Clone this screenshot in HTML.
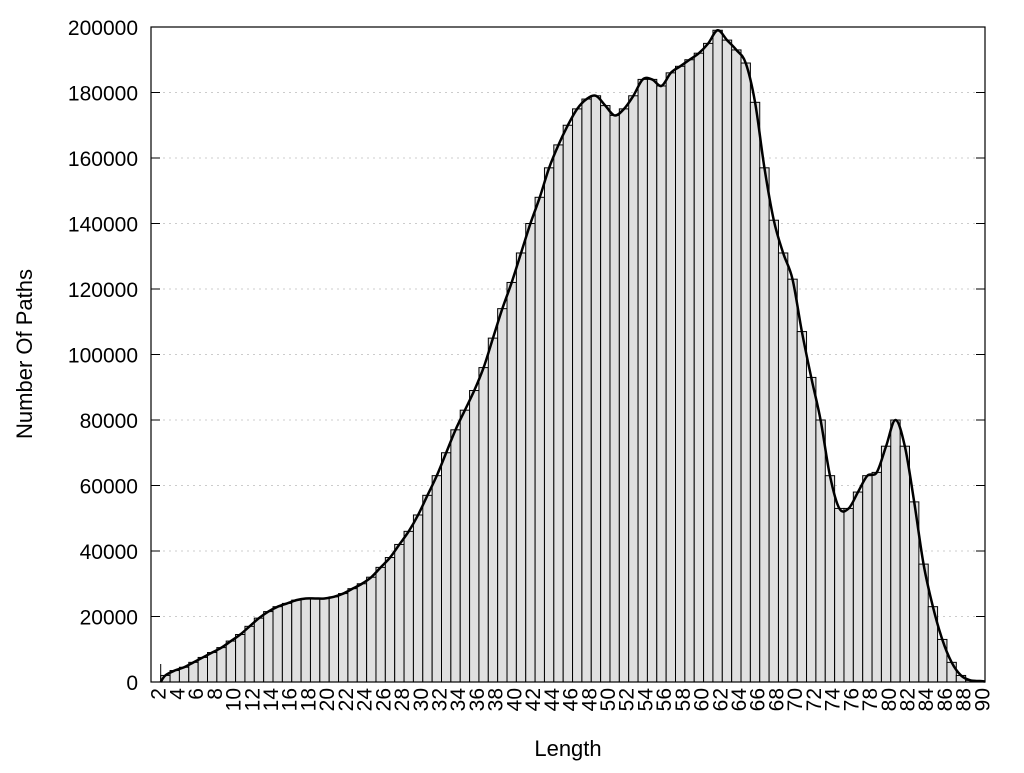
<!DOCTYPE html>
<html><head><meta charset="utf-8"><style>body{margin:0;background:#fff}</style></head><body>
<svg id="s" width="1024" height="768" xmlns="http://www.w3.org/2000/svg" font-family="Liberation Sans, sans-serif"></svg>
<script>
const v={2:.5,3:2,4:3.5,5:4.5,6:6,7:7.5,8:9,9:10.5,10:12.5,11:14.5,12:17,13:19.5,14:21.5,15:23,16:24,17:25,18:25.5,19:25.5,20:25.5,21:26,22:27,23:28.5,24:30,25:32,26:35,27:38,28:42,29:46,30:51,31:57,32:63,33:70,34:77,35:83,36:89,37:96,38:105,39:114,40:122,41:131,42:140,43:148,44:157,45:164,46:170,47:175,48:178,49:179,50:176,51:173,52:175,53:179,54:184,55:184,56:182,57:186,58:188,59:190,60:192,61:195,62:199,63:196,64:193,65:189,66:177,67:157,68:141,69:131,70:123,71:107,72:93,73:80,74:63,75:53,76:53,77:58,78:63,79:64,80:72,81:80,82:72,83:55,84:36,85:23,86:13,87:6,88:2,89:.5,90:.3};
const L=151,R=985,T=27,B=682,S=9.36,X=n=>160.7+(n-2)*S,Y=k=>B-k*1000/200000*(B-T);
let h='';
for(let k=20;k<=180;k+=20)h+=`<line x1="${L}" x2="${R}" y1="${Y(k)}" y2="${Y(k)}" stroke="#ccc" stroke-dasharray="2,4"/>`;
for(let n=3;n<=90;n++){h+=`<rect x="${X(n-1)}" y="${Y(v[n])}" width="${S}" height="${B-Y(v[n])}" fill="#e0e0e0" stroke="#000" stroke-width="1"/>`;}
h+=`<line x1="${X(2)}" x2="${X(2)}" y1="${B}" y2="${B-18}" stroke="#000"/>`;
let p=[[X(2),B]];for(let n=3;n<=90;n++)p.push([X(n)-S/2,Y(v[n])]);p.push([R,B-0.5]);
let d=`M${p[0]}`;for(let i=0;i<p.length-1;i++){let a=p[i-1]||p[i],b=p[i],c=p[i+1],e=p[i+2]||c;d+=` C${b[0]+(c[0]-a[0])/6},${b[1]+(c[1]-a[1])/6} ${c[0]-(e[0]-b[0])/6},${c[1]-(e[1]-b[1])/6} ${c[0]},${c[1]}`;}
h+=`<path d="${d}" fill="none" stroke="#000" stroke-width="2.5"/>`;
h+=`<rect x="${L}" y="${T}" width="${R-L}" height="${B-T}" fill="none" stroke="#000" stroke-width="1.2"/>`;
for(let k=0;k<=200;k+=20){h+=`<line x1="${L}" x2="${L+9}" y1="${Y(k)}" y2="${Y(k)}" stroke="#000"/><line x1="${R}" x2="${R-9}" y1="${Y(k)}" y2="${Y(k)}" stroke="#000"/><text x="138" y="${Y(k)+8}" font-size="21" text-anchor="end">${k*1000}</text>`;}
for(let n=2;n<=90;n+=2){h+=`<text transform="translate(${X(n)+5},688) rotate(-90)" font-size="21" text-anchor="end">${n}</text>`;}
h+=`<text x="568" y="756" font-size="22" text-anchor="middle">Length</text>`;
h+=`<text transform="translate(32,354) rotate(-90)" font-size="22" text-anchor="middle">Number Of Paths</text>`;
document.getElementById('s').innerHTML=h;
</script>
</body></html>
